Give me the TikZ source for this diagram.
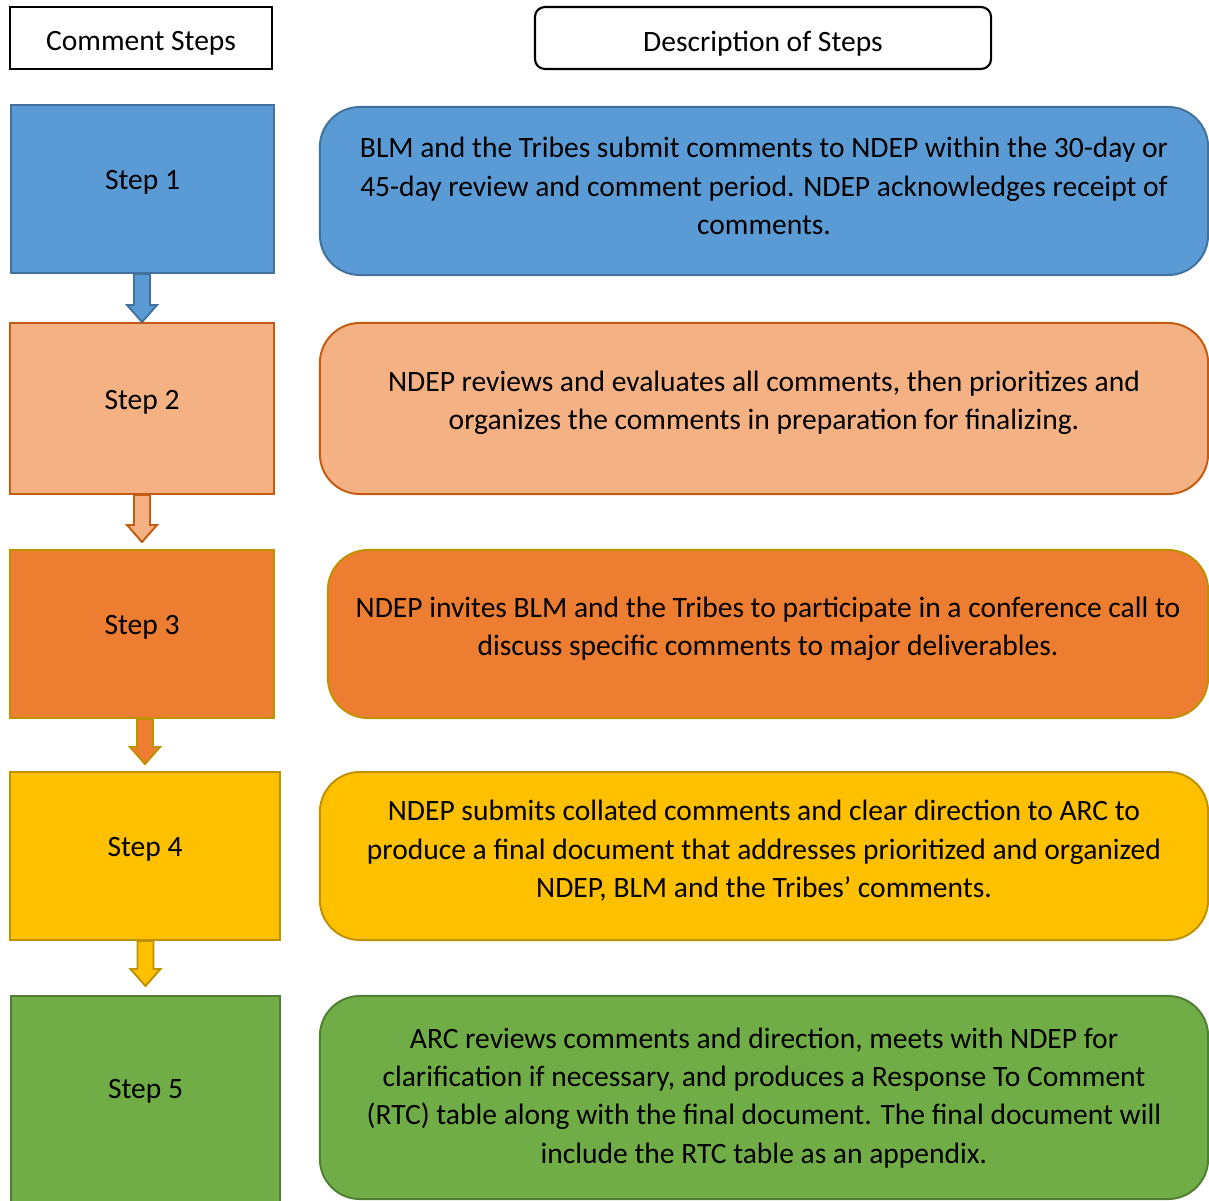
\documentclass[tikz,border=0pt]{standalone}
\usepackage{fontspec}
\setmainfont{Carlito}
\usetikzlibrary{positioning, calc}

\definecolor{stepblue}{HTML}{5B9BD5}
\definecolor{stepblueline}{HTML}{41719C}
\definecolor{steppeach}{HTML}{F4B183}
\definecolor{steppeachline}{HTML}{C55A11}
\definecolor{steporange}{HTML}{ED7D31}
\definecolor{stepgold}{HTML}{FFC000}
\definecolor{stepgoldline}{HTML}{BF9000}
\definecolor{stepgreen}{HTML}{70AD47}
\definecolor{stepgreenline}{HTML}{507E32}

\tikzset{
  headbox/.style={draw=black, line width=1.5pt, fill=white, minimum height=1.55cm, text height=0.8cm},
  stepbox/.style={line width=1.4pt, minimum width=6.6cm, minimum height=4.2cm, inner sep=0pt, text depth=0.45cm},
  descbox/.style={line width=1.4pt, rounded corners=1cm, minimum width=22.2cm, minimum height=4.2cm, align=center, inner sep=0pt, text depth=0.35cm}
}

% block arrow between two step boxes
\newcommand{\stepflow}[5]{%
  \draw[line width=1.4pt, fill=#3, draw=#4, line join=miter]
    ($(#1.south -| #2.north)+(-8,0)$) -- ($(#2.north)+(-8,-17-#5)$) -- ($(#2.north)+(-15,-17-#5)$)
    -- ($(#2.north)+(0,-#5)$) -- ($(#2.north)+(15,-17-#5)$) -- ($(#2.north)+(8,-17-#5)$)
    -- ($(#1.south -| #2.north)+(8,0)$) -- cycle;
}

\begin{document}
\begin{tikzpicture}[x=0.025cm, y=-0.025cm, font=\fontsize{21}{27.3}\selectfont]
  \useasboundingbox (0,0) rectangle (1209,1201);

  % Headers
  \node[headbox, minimum width=6.55cm, text height=0.72cm] (hsteps) at (141,38) {Comment Steps};
  \node[headbox, rounded corners=0.25cm, minimum width=11.4cm] (hdesc) at (763,38) {Description of Steps};

  % Step 1
  \node[stepbox, fill=stepblue, draw=stepblueline, minimum width=6.575cm] (s1) at (142.5,189) {Step 1};
  \node[descbox, fill=stepblue, draw=stepblueline, text depth=0.25cm] (d1) at (764,191) {BLM and the Tribes submit comments to NDEP within the 30-day or\\45-day review and comment period. NDEP acknowledges receipt of\\comments.};

  % Step 2
  \node[stepbox, fill=steppeach, draw=steppeachline, minimum height=4.275cm] (s2) at (142,408.5) {Step 2};
  \node[descbox, fill=steppeach, draw=steppeachline, minimum height=4.275cm, text depth=0.4cm] (d2) at (764,408.5) {NDEP reviews and evaluates all comments, then prioritizes and\\organizes the comments in preparation for finalizing.};

  % Step 3
  \node[stepbox, fill=steporange, draw=stepgoldline] (s3) at (142,634) {Step 3};
  \node[descbox, fill=steporange, draw=stepgoldline, minimum width=22cm, text depth=0.4cm] (d3) at (768,634) {NDEP invites BLM and the Tribes to participate in a conference call to\\discuss specific comments to major deliverables.};

  % Step 4
  \node[stepbox, fill=stepgold, draw=stepgoldline, minimum width=6.75cm] (s4) at (145,856) {Step 4};
  \node[descbox, fill=stepgold, draw=stepgoldline] (d4) at (764,856) {NDEP submits collated comments and clear direction to ARC to\\produce a final document that addresses prioritized and organized\\NDEP, BLM and the Tribes’ comments.};

  % Step 5
  \node[stepbox, fill=stepgreen, draw=stepgreenline, minimum width=6.725cm, minimum height=5.35cm] (s5) at (145.5,1103) {};
  \node (s5label) at (145.5,1091) {Step 5};
  \node[descbox, fill=stepgreen, draw=stepgreenline, minimum height=5.075cm, text depth=0.1cm] (d5) at (764,1097.5) {ARC reviews comments and direction, meets with NDEP for\\clarification if necessary, and produces a Response To Comment\\(RTC) table along with the final document. The final document will\\include the RTC table as an appendix.};

  % Arrows
  \stepflow{s1}{s2}{stepblue}{stepblueline}{0}
  \stepflow{s2}{s3}{steppeach}{steppeachline}{7}
  \stepflow{s3}{s4}{steporange}{stepgoldline}{7}
  \stepflow{s4}{s5}{stepgold}{stepgoldline}{9}
\end{tikzpicture}
\end{document}
